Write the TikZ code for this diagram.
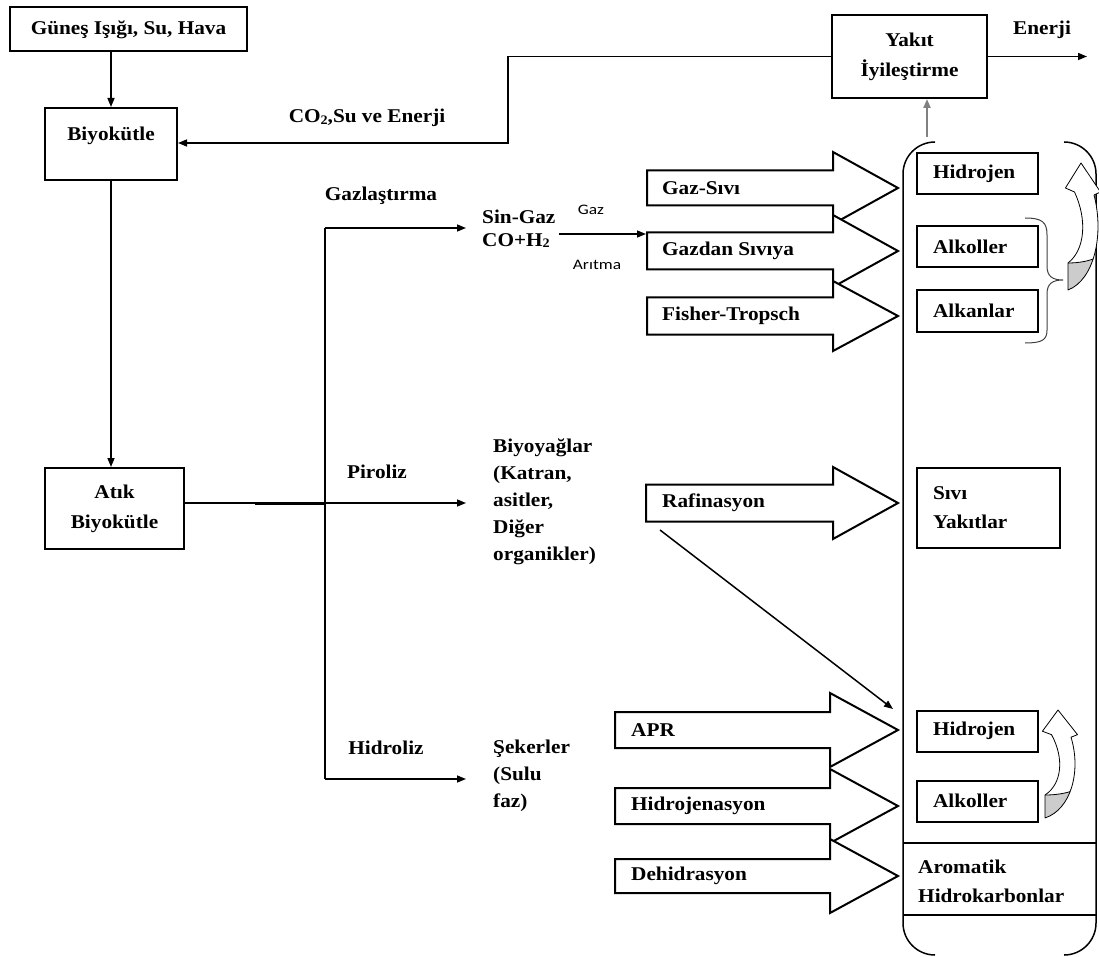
\documentclass[tikz,border=0pt]{standalone}
\usepackage{fontspec}
\setmainfont{Liberation Serif}[FakeStretch=1.09]
\newfontfamily\smallsans{Carlito}[FakeStretch=1.2]
\usetikzlibrary{arrows.meta,calc}

\tikzset{
  box/.style={draw, line width=2pt, fill=white, inner sep=0pt},
  txt/.style={font=\bfseries\fontsize{19.5}{27}\selectfont, inner sep=0pt, align=left},
  ibox/.style={draw, line width=2pt, txt, align=left, inner xsep=16pt, inner ysep=0pt, minimum height=41pt},
  conn/.style={line width=1.5pt, -{Triangle[length=9pt,width=7pt]}},
  plain/.style={line width=1.5pt},
  barrowstyle/.style={draw, line width=2pt, fill=white, line join=miter},
  lbl/.style={font=\smallsans\fontsize{14.5}{14.5}\selectfont, inner sep=0pt},
}
\newcommand{\subtwo}{{\fontsize{13}{13}\selectfont\raisebox{-1.5pt}{2}}}
% #1 left x, #2 centre y, #3 shaft end x, #4 shaft half height, #5 head half height
\newcommand{\blockarr}[5]{\filldraw[barrowstyle] (#1,#2-#4) -- (#3,#2-#4) -- (#3,#2-#5) -- (898,#2) -- (#3,#2+#5) -- (#3,#2+#4) -- (#1,#2+#4) -- cycle;}
% curved ribbon arrow: #1 tip x, #2 tip y, #3 yscale
\newcommand{\curvarr}[3]{%
\begin{scope}[shift={(#1,#2)}, yscale=#3, xscale=1.3]
  \fill[white] (-10,127) .. controls (10,117) and (18,72) .. (10,32) -- (15,29) -- (0,0) -- (-12,25) -- (-5,29) .. controls (5,57) and (3,87) .. (-10,100) -- cycle;
  \fill[gray!40] (-10,100) -- (-10,127) .. controls (-1,122.5) and (5.57,111.14) .. (9.35,96) .. controls (3,99) and (-4,100) .. (-10,100) -- cycle;
  \draw[line width=0.8pt, line join=round] (-10,127) .. controls (10,117) and (18,72) .. (10,32) -- (15,29) -- (0,0) -- (-12,25) -- (-5,29) .. controls (5,57) and (3,87) .. (-10,100) -- cycle;
  \draw[line width=0.8pt] (9.35,96) .. controls (3,99) and (-4,100) .. (-10,100);
\end{scope}}

\begin{document}
\begin{tikzpicture}[x=1pt,y=-1pt]
\useasboundingbox (0,0) rectangle (1099,957);

% ---------- left column ----------
\node[box, txt, align=center, minimum width=237pt, minimum height=44pt] (sun) at (128.5,29.5) {Güneş Işığı, Su, Hava};
\node[box, minimum width=132pt, minimum height=72pt] (bio) at (111,144) {};
\node[txt] (biotxt) at (111,136) {Biyokütle};
\node[box, txt, align=center, font=\bfseries\fontsize{19.5}{30}\selectfont, minimum width=139pt, minimum height=81pt] (waste) at (114.5,508.5) {Atık\\Biyokütle};

\draw[conn] (bio.north |- sun.south) -- (bio.north);
\draw[conn] (bio.south) -- (bio.south |- waste.north);

% ---------- fuel upgrading ----------
\node[box, txt, align=center, font=\bfseries\fontsize{19.5}{30}\selectfont, minimum width=155pt, minimum height=83pt] (yakit) at (909.5,56.5) {Yakıt\\İyileştirme};
\coordinate (fbc) at (508,143);
\draw[conn] (yakit.west) -| (fbc) -- (bio.east |- fbc);
\node[txt] (co2) at (367,118) {CO\subtwo,Su ve Enerji};
\coordinate (en) at (1087,56.5);
\draw[conn] (yakit.east) -- (en);
\node[txt] (enerji) at (1042,30) {Enerji};
\coordinate (cont) at (927,137);
\draw[line width=2pt, gray, -{Triangle[length=9pt,width=7pt]}] (cont) -- (cont |- yakit.south);

% ---------- branching tree ----------
\coordinate (tree) at (325,503);
\coordinate (gtop) at (325,228);
\coordinate (hbot) at (325,779);
\coordinate (thk) at (255,503);
\coordinate (gend) at (466,228);
\coordinate (pend) at (466,503);
\coordinate (hend) at (466,779);
\draw[line width=2pt] (gtop) -- (hbot);
\draw[plain] (waste.east |- tree) -- (tree);
\draw[line width=3pt] (thk) -- (tree);
\draw[conn] (gtop) -- (gend);
\draw[conn] (tree) -- (pend);
\draw[conn] (hbot) -- (hend);

\node[txt] (gaz) at (381,196) {Gazlaştırma};
\node[txt] (pir) at (377,472) {Piroliz};
\node[txt] (hid) at (386,748) {Hidroliz};

\node[txt, anchor=west, font=\bfseries\fontsize{19.5}{23}\selectfont] (sg) at (482,228.5) {Sin-Gaz\\CO+H\subtwo};
\node[txt, anchor=west] (oil) at (493,502) {Biyoyağlar\\(Katran,\\asitler,\\Diğer\\organikler)};
\node[txt, anchor=west] (sug) at (493,776) {Şekerler\\(Sulu\\faz)};

\coordinate (sgout) at (559,234);
\coordinate (gdin) at (646,234);
\draw[conn] (sgout) -- (gdin);
\node[lbl] (gazl) at (591,210) {Gaz};
\node[lbl] (arl) at (597,265) {Arıtma};

% ---------- block arrows ----------
\blockarr{647}{188}{833}{17.5}{36}
\blockarr{647}{251}{833}{18.5}{36}
\blockarr{647}{316}{833}{18.5}{35}
\node[txt, anchor=west] (gs) at (662,188) {Gaz-Sıvı};
\node[txt, anchor=west] (gds) at (662,251) {Gazdan Sıvıya};
\node[txt, anchor=west] (ft) at (662,316) {Fisher-Tropsch};

\blockarr{646}{503}{833}{18.5}{36}
\node[txt, anchor=west] (raf) at (662,503) {Rafinasyon};

\blockarr{615}{730}{830}{18}{37}
\blockarr{615}{806}{830}{18}{37}
\blockarr{615}{876}{830}{17}{37}
\node[txt, anchor=west] (apr) at (631,730) {APR};
\node[txt, anchor=west] (hjn) at (631,806) {Hidrojenasyon};
\node[txt, anchor=west] (dhd) at (631,876) {Dehidrasyon};

\coordinate (rafb) at (660,530);
\coordinate (h2in) at (893,709);
\draw[conn] (rafb) -- (h2in);

% ---------- product container ----------
\draw[line width=1.5pt] (935,142) .. controls (917.3,142) and (903,156.3) .. (903,174) -- (903,923) .. controls (903,940.7) and (917.3,955) .. (935,955);
\draw[line width=1.5pt] (1064,142) .. controls (1081.7,142) and (1096,156.3) .. (1096,174) -- (1096,923) .. controls (1096,940.7) and (1081.7,955) .. (1064,955);

\node[ibox, text width=89pt] (h1) at (977.5,173.5) {Hidrojen};
\node[ibox, text width=89pt] (a1) at (977.5,246.5) {Alkoller};
\node[ibox, text width=89pt] (k1) at (977.5,311) {Alkanlar};
\node[ibox, text width=111pt, minimum height=80pt, font=\bfseries\fontsize{19.5}{29}\selectfont] (sy) at (988.5,508) {Sıvı\\Yakıtlar};
\node[ibox, text width=89pt] (h2) at (977.5,731) {Hidrojen};
\node[ibox, text width=89pt] (a2) at (977.5,801) {Alkoller};

\draw[line width=1.5pt] (903,843) -- (1096,843);
\draw[line width=1.5pt] (903,915) -- (1096,915);
\node[txt, anchor=west, font=\bfseries\fontsize{19.5}{29}\selectfont] (arom) at (918,881) {Aromatik\\Hidrokarbonlar};

\draw[line width=1pt, black!75] (1025,218) .. controls (1042,218) and (1047,222) .. (1047,235) -- (1047,266) .. controls (1047,276) and (1052,280) .. (1063,280) .. controls (1052,280) and (1047,284) .. (1047,294) -- (1047,330) .. controls (1047,340) and (1042,343) .. (1025,343);

\curvarr{1081}{163}{1}
\curvarr{1058}{710}{0.85}
\end{tikzpicture}
\end{document}
